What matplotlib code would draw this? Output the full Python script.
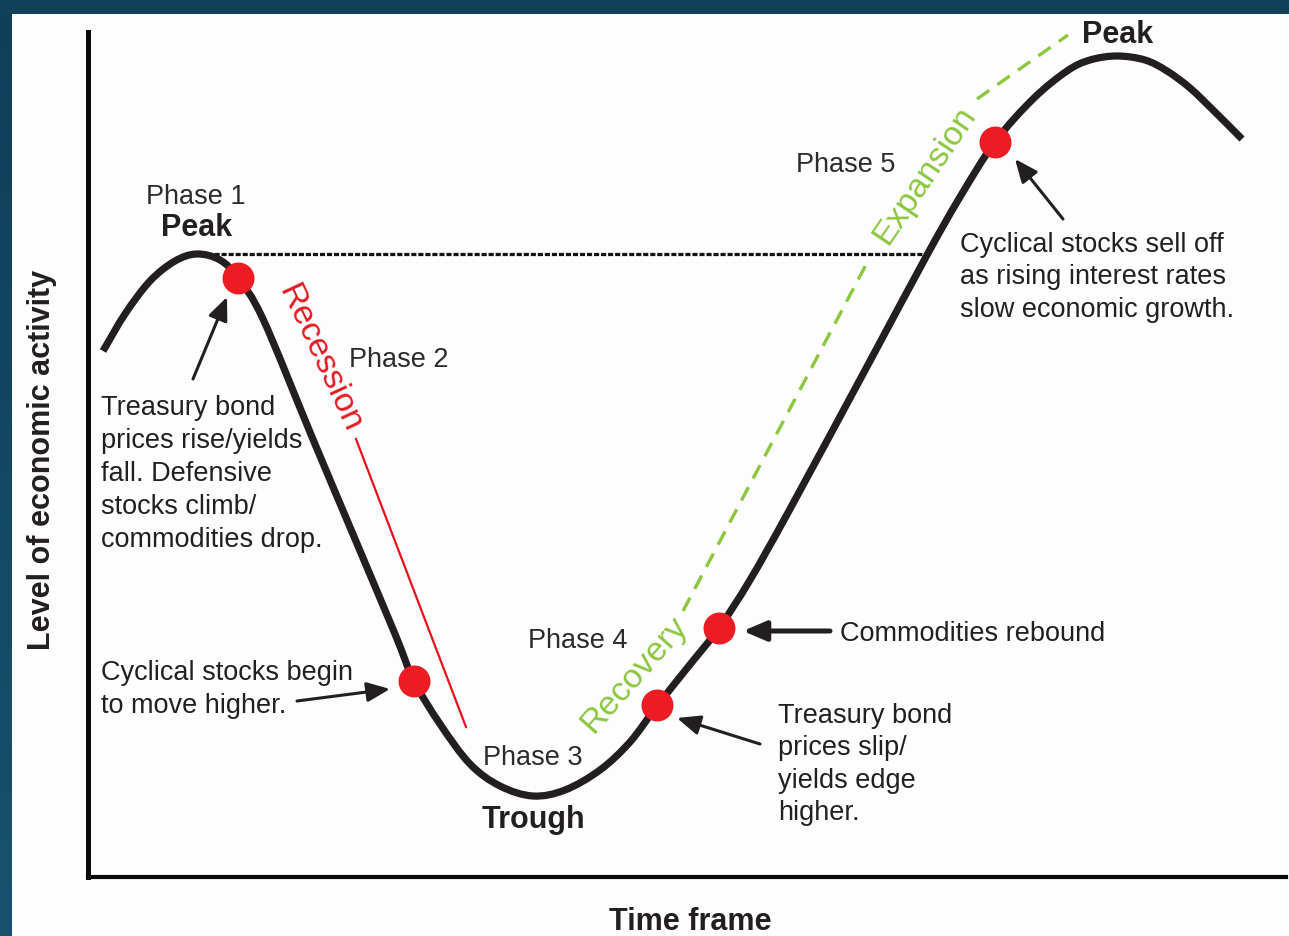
import numpy as np
import matplotlib
matplotlib.use("Agg")
import matplotlib.pyplot as plt
from matplotlib.patches import Rectangle, PathPatch
from matplotlib.path import Path

plt.rcParams['font.family'] = ['Liberation Sans', 'DejaVu Sans']

# ---------------- data (time / activity in picture units) ----------
curve_x = [103, 125, 150, 175, 197, 220, 238, 263, 312, 355, 395, 414, 440, 470, 500,
           533, 565, 600, 630, 657, 688, 719, 750, 790, 870, 927, 960, 995, 1033, 1067,
           1090, 1117, 1145, 1167, 1190, 1215, 1242]
curve_y = [352, 315, 282, 262, 255, 261, 279, 320, 438, 540, 635, 682, 725, 765, 787,
           797, 791, 771, 743, 707, 668, 629, 581, 510, 362, 256, 198, 143, 100, 72,
           61, 57, 61, 72, 89, 113, 140]

dot_x = [238, 414, 657, 719, 995]
dot_y = [279, 682, 706, 629, 143]

prior_peak_level = 255
prior_peak_span = [207, 925]

recession_x = [356, 466]
recession_y = [440, 728]
recovery_x = [683, 868]
recovery_y = [612, 262]
expansion_x = [977, 1068]
expansion_y = [100, 36]

# arrows: (tail_x, tail_y, tip_x, tip_y)
arrow_tail_x = [193, 297, 760, 830, 1063]
arrow_tail_y = [380, 702, 745, 632, 220]
arrow_tip_x = [227, 390, 677, 743, 1015]
arrow_tip_y = [298, 690, 719, 632, 160]

phase_labels = ["Phase 1", "Phase 2", "Phase 3", "Phase 4", "Phase 5"]
turn_labels = ["Peak", "Trough", "Peak"]
note_bond_up = ["Treasury bond", "prices rise/yields", "fall. Defensive",
                "stocks climb/", "commodities drop."]
note_cyc_up = ["Cyclical stocks begin", "to move higher."]
note_bond_down = ["Treasury bond", "prices slip/", "yields edge", "higher."]
note_comm = ["Commodities rebound"]
note_cyc_down = ["Cyclical stocks sell off", "as rising interest rates",
                 "slow economic growth."]
x_label = "Time frame"
y_label = "Level of economic activity"

# ---------------- style ----------------
INK = '#231f20'
RED = '#ed1c24'
GREEN = '#8dc63f'
W, H = 1289, 937

fig = plt.figure(figsize=(W / 100, H / 100), dpi=100)
fig.patch.set_facecolor('#fdfdfd')

# background frame (dark blue band at top and left)
bg = fig.add_axes([0, 0, 1, 1], zorder=0)
bg.axis('off')
grad = np.linspace(0, 1, 200)[:, None]
c0 = np.array([0x0f, 0x3e, 0x58]) / 255
c1 = np.array([0x16, 0x52, 0x6f]) / 255
img = c0[None, None, :] * (1 - grad[..., None]) + c1[None, None, :] * grad[..., None]
bg.imshow(img, extent=(0, 12, H, 0), aspect='auto', interpolation='bilinear')
bg.add_patch(Rectangle((0, 0), W, 15, color='#10405a', lw=0))
bg.set_xlim(0, W)
bg.set_ylim(H, 0)

# main axes (axis lines = spines)
ax = fig.add_axes([88 / W, (H - 878) / H, (1286 - 88) / W, (878 - 33) / H], zorder=1)
ax.set_facecolor('none')
ax.set_xlim(88, 1286)
ax.set_ylim(878, 33)
for s in ['top', 'right']:
    ax.spines[s].set_visible(False)
ax.spines['left'].set_linewidth(3.6)
ax.spines['bottom'].set_linewidth(3.0)
ax.spines['left'].set_color('#0a0a0a')
ax.spines['bottom'].set_color('#0a0a0a')
ax.set_xticks([])
ax.set_yticks([])

# prior-peak dotted reference
ax.plot(prior_peak_span, [prior_peak_level] * 2, color='#111111', lw=2.3,
        linestyle=(0, (1.6, 0.6)), zorder=2)

# business cycle curve: smooth Bezier path through the read points
P = np.column_stack([curve_x, curve_y]).astype(float)
ext = np.vstack([2 * P[0] - P[1], P, 2 * P[-1] - P[-2]])
verts = [tuple(P[0])]
codes = [Path.MOVETO]
for i in range(1, len(ext) - 2):
    p0, p1, p2, p3 = ext[i - 1], ext[i], ext[i + 1], ext[i + 2]
    verts += [tuple(p1 + (p2 - p0) / 6), tuple(p2 - (p3 - p1) / 6), tuple(p2)]
    codes += [Path.CURVE4] * 3
ax.add_patch(PathPatch(Path(verts, codes), fill=False, edgecolor=INK, lw=5.2,
                       joinstyle='round', capstyle='butt', zorder=3))

# phase guide lines
ax.plot(recession_x, recession_y, color='#e8101e', lw=1.6, zorder=2)
ax.plot(recovery_x, recovery_y, color=GREEN, lw=2.4, linestyle=(0, (4.5, 3.0)), zorder=2)
ax.plot(expansion_x, expansion_y, color=GREEN, lw=2.4, linestyle=(0, (4.5, 3.0)), zorder=2)

# red dots
ax.scatter(dot_x, dot_y, s=23 ** 2, color=RED, zorder=5, linewidths=0)

# arrows
for i in range(len(arrow_tail_x)):
    lw = 3.6 if i == 3 else 2.2
    ax.annotate('', xy=(arrow_tip_x[i], arrow_tip_y[i]),
                xytext=(arrow_tail_x[i], arrow_tail_y[i]),
                arrowprops=dict(arrowstyle='-|>,head_length=1.4,head_width=0.6',
                                lw=lw, color=INK, shrinkA=0, shrinkB=0),
                zorder=4)

REG = 19.5
BOLD = 22
PH = '#2b2b2b'

# phase labels
ax.text(196, 204, phase_labels[0], fontsize=REG, color=PH, ha='center', va='baseline')
ax.text(349, 367, phase_labels[1], fontsize=REG, color=PH, ha='left', va='baseline')
ax.text(483, 765, phase_labels[2], fontsize=REG, color=PH, ha='left', va='baseline')
ax.text(528, 648, phase_labels[3], fontsize=REG, color=PH, ha='left', va='baseline')
ax.text(796, 172, phase_labels[4], fontsize=REG, color=PH, ha='left', va='baseline')

# turning points
ax.text(197, 236, turn_labels[0], fontsize=BOLD, fontweight='bold', color=INK,
        ha='center', va='baseline')
ax.text(533, 828, turn_labels[1], fontsize=BOLD, fontweight='bold', color=INK,
        ha='center', va='baseline')
ax.text(1082, 43, turn_labels[2], fontsize=BOLD, fontweight='bold', color=INK,
        ha='left', va='baseline', clip_on=False)

# notes (one text per line)
def note(lines, x, y0, dy=33):
    for k, line in enumerate(lines):
        ax.text(x, y0 + k * dy, line, fontsize=REG, color=INK, ha='left', va='baseline')

note(note_bond_up, 101, 415)
note(note_cyc_up, 101, 680)
note(note_bond_down, 778, 723, dy=32.5)
note(note_comm, 840, 641)
note(note_cyc_down, 960, 252, dy=32.5)

# rotated phase names
ax.text(320, 358, "Recession", fontsize=24.5, color='#e31b23', rotation=-65,
        rotation_mode='anchor', ha='center', va='center')
ax.text(634, 675, "Recovery", fontsize=24.5, color=GREEN, rotation=48.5,
        rotation_mode='anchor', ha='center', va='center')
ax.text(925, 175, "Expansion", fontsize=24.5, color=GREEN, rotation=56,
        rotation_mode='anchor', ha='center', va='center')

# axis labels
ax.set_xlabel(x_label, fontsize=BOLD, fontweight='bold', color=INK, va='baseline')
ax.xaxis.set_label_coords((690 - 88) / (1286 - 88), -(930 - 878) / (878 - 33))
ax.set_ylabel(y_label, fontsize=BOLD, fontweight='bold', color=INK, va='baseline')
ax.yaxis.set_label_coords((50 - 88) / (1286 - 88), (878 - 460) / (878 - 33))

fig.savefig('out.png', dpi=100, facecolor=fig.get_facecolor())
